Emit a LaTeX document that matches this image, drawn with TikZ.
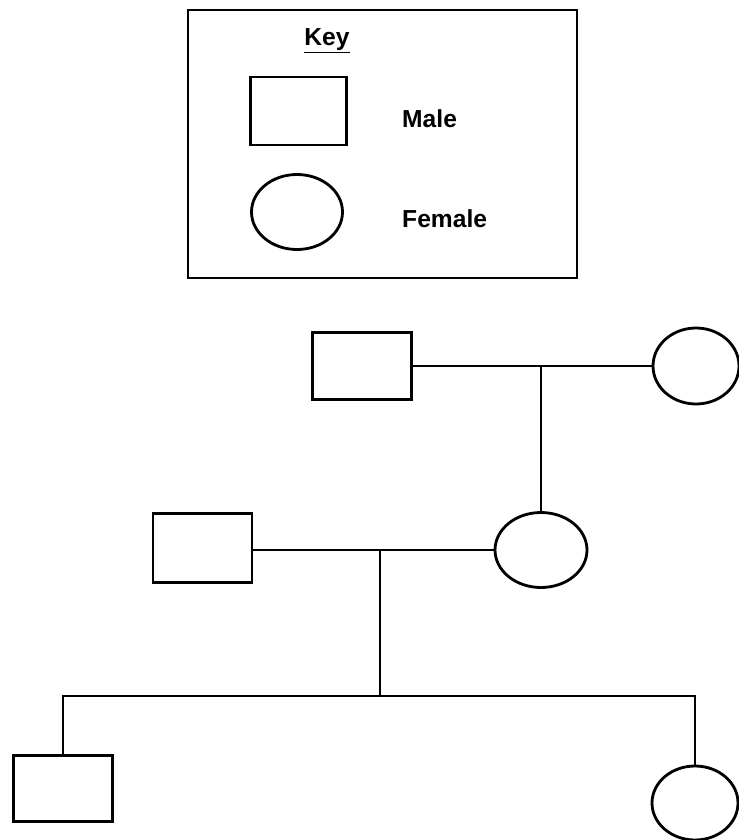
\documentclass[tikz,border=0pt]{standalone}
\usepackage{fontspec}
\setmainfont{Liberation Sans}
\usetikzlibrary{shapes.geometric,positioning}

\begin{document}
\begin{tikzpicture}[
  x=0.03cm, y=-0.03cm,
  male/.style={draw, line width=2.4pt, rectangle, minimum width=2.98cm,
               minimum height=2.0cm, inner sep=0pt},
  female/.style={draw, line width=2.4pt, ellipse, minimum width=2.6cm,
                 minimum height=2.25cm, inner sep=0pt},
  keytext/.style={font=\fontsize{21}{25}\selectfont\bfseries, inner sep=0pt},
  link/.style={line width=2pt}
]
\useasboundingbox (0,0) rectangle (739,840);

% key panel
\draw[line width=2pt] (188,10) rectangle (577,278);
\node[keytext, anchor=base] (keyhead) at (327,45) {\underline{Key}};
\node[male, minimum width=2.9cm, minimum height=2.04cm] (keymale) at (298.5,111) {};
\node[female, minimum width=2.73cm] (keyfemale) at (297,212) {};
\node[keytext, anchor=base west] (malelbl) at (402,127) {Male};
\node[keytext, anchor=base west] (femalelbl) at (402,227) {Female};

% first generation
\node[male] (m1) at (362,366) {};
\node[female, minimum width=2.58cm, minimum height=2.28cm] (f1) at (696,366) {};

% second generation
\node[male, minimum width=2.97cm, minimum height=2.07cm] (m2) at (202.5,548) {};
\node[female, minimum width=2.76cm] (f2) at (541,550) {};

% third generation
\node[male] (m3) at (63,788.5) {};
\node[female, minimum width=2.58cm, minimum height=2.22cm] (f3) at (695,803) {};
\coordinate (sibs) at (380,696);

\draw[link] (m1) -- (f1);
\draw[link] (f2.north) -- (f2.north |- f1.west);
\draw[link] (f2.west) -- (f2.west -| m2.east);
\draw[link] (sibs) -- (sibs |- f2.west);
\draw[link] (m3.north) |- (sibs) -| (f3.north);
\end{tikzpicture}
\end{document}
